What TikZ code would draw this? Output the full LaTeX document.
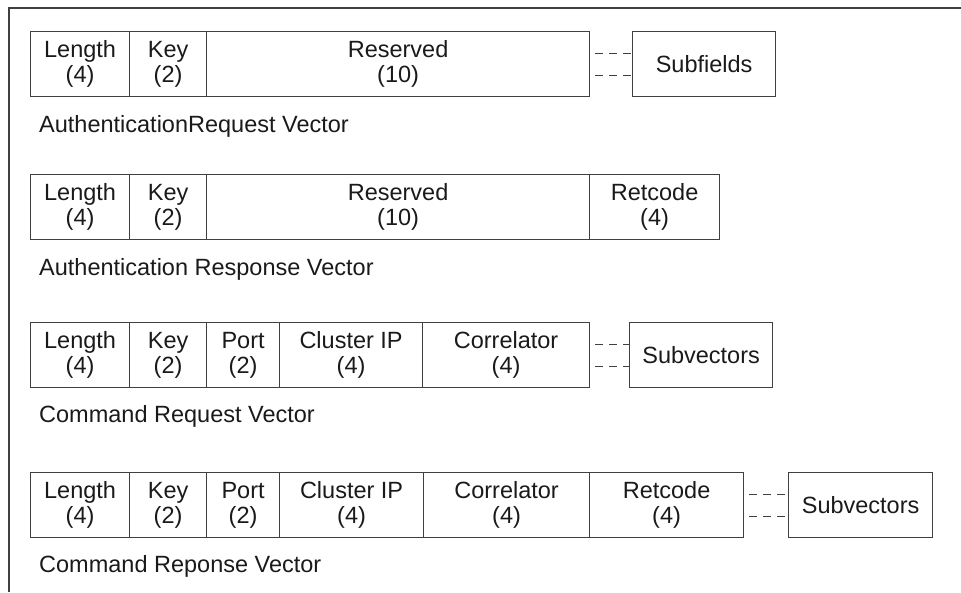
\documentclass[tikz,border=0pt]{standalone}
\usepackage{fontspec}
\setmainfont{Liberation Sans}
\usetikzlibrary{calc}
\definecolor{ln}{HTML}{404040}
\definecolor{tx}{HTML}{1A1A1A}
\tikzset{
  cell/.style={draw=ln, line width=1.2pt, anchor=north west, minimum height=65pt,
    inner sep=0pt, align=center, text=tx, font=\fontsize{23.5}{25}\selectfont},
  vlabel/.style={anchor=base west, inner sep=0pt, text=tx, font=\fontsize{23.5}{25}\selectfont},
  dashline/.style={draw=ln, line width=1.1pt, dash pattern=on 8pt off 6pt, dash phase=9pt},
}
\begin{document}
\begin{tikzpicture}[x=1pt, y=-1pt]
\useasboundingbox (0,0) rectangle (961,592);
\draw[ln, line width=2pt] (9,592) -- (9,8) -- (961,8);
% Row 1
\node[cell, minimum width=99pt] (a1) at (30,31) {Length\\(4)};
\node[cell, minimum width=77pt] (a2) at (129,31) {Key\\(2)};
\node[cell, minimum width=383pt] (a3) at (206,31) {Reserved\\(10)};
\node[cell, minimum width=143pt] (as) at (632,31) {Subfields};
\draw[dashline] ([yshift=11pt]a3.east) -- ([yshift=11pt]as.west);
\draw[dashline] ([yshift=-11pt]a3.east) -- ([yshift=-11pt]as.west);
\node[vlabel] (la) at (39,132) {AuthenticationRequest Vector};
% Row 2
\node[cell, minimum width=99pt] (b1) at (30,174) {Length\\(4)};
\node[cell, minimum width=77pt] (b2) at (129,174) {Key\\(2)};
\node[cell, minimum width=383pt] (b3) at (206,174) {Reserved\\(10)};
\node[cell, minimum width=130pt] (b4) at (589,174) {Retcode\\(4)};
\node[vlabel] (lb) at (39,275) {Authentication Response Vector};
% Row 3
\node[cell, minimum width=99pt] (c1) at (30,322) {Length\\(4)};
\node[cell, minimum width=77pt] (c2) at (129,322) {Key\\(2)};
\node[cell, minimum width=73pt] (c3) at (206,322) {Port\\(2)};
\node[cell, minimum width=143pt] (c4) at (279,322) {Cluster IP\\(4)};
\node[cell, minimum width=167pt] (c5) at (422,322) {Correlator\\(4)};
\node[cell, minimum width=143pt] (cs) at (629,322) {Subvectors};
\draw[dashline] ([yshift=11pt]c5.east) -- ([yshift=11pt]cs.west);
\draw[dashline] ([yshift=-11pt]c5.east) -- ([yshift=-11pt]cs.west);
\node[vlabel] (lc) at (39,422) {Command Request Vector};
% Row 4
\node[cell, minimum width=99pt] (d1) at (30,472) {Length\\(4)};
\node[cell, minimum width=77pt] (d2) at (129,472) {Key\\(2)};
\node[cell, minimum width=73pt] (d3) at (206,472) {Port\\(2)};
\node[cell, minimum width=144pt] (d4) at (279,472) {Cluster IP\\(4)};
\node[cell, minimum width=166pt] (d5) at (423,472) {Correlator\\(4)};
\node[cell, minimum width=154pt] (d6) at (589,472) {Retcode\\(4)};
\node[cell, minimum width=144pt] (ds) at (788,472) {Subvectors};
\draw[dashline] ([yshift=11pt]d6.east) -- ([yshift=11pt]ds.west);
\draw[dashline] ([yshift=-11pt]d6.east) -- ([yshift=-11pt]ds.west);
\node[vlabel] (ld) at (39,572) {Command Reponse Vector};
\end{tikzpicture}
\end{document}
